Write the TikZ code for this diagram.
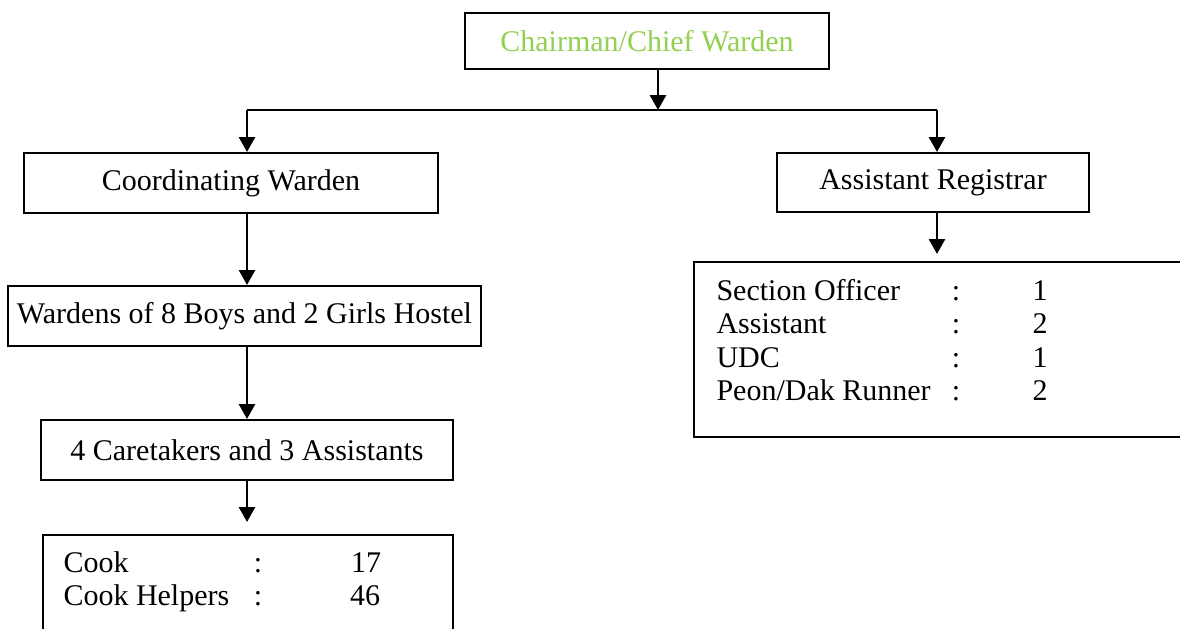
\documentclass[tikz,border=0pt]{standalone}
\usepackage{fontspec}
\setmainfont{Liberation Serif}
\usetikzlibrary{arrows.meta}
\definecolor{lgreen}{HTML}{92D050}
\begin{document}
\begin{tikzpicture}[x=0.4pt,y=-0.4pt,
  box/.style={draw,line width=0.8pt,inner sep=0pt,font=\fontsize{12}{14}\selectfont},
  txt/.style={inner sep=0pt,font=\fontsize{12}{14}\selectfont},
  arr/.style={line width=1.1pt,-{Triangle[length=6pt,width=6.4pt]}},
  ln/.style={line width=0.9pt}]
\useasboundingbox (0,0) rectangle (1180,628);
\clip (0,0) rectangle (1180,628);
% boxes
\node[box,minimum width=145.6pt,minimum height=22.4pt,text=lgreen] (chair) at (647,41) {Chairman/Chief Warden};
\node[box,minimum width=165.6pt,minimum height=24pt] (coord) at (231,183) {Coordinating Warden};
\node[box,minimum width=124.8pt,minimum height=23.6pt] (asreg) at (933,182.5) {Assistant Registrar};
\node[box,minimum width=189.2pt,minimum height=24pt] (wardens) at (244.5,316) {Wardens of 8 Boys and 2 Girls Hostel};
\node[box,minimum width=164.8pt,minimum height=24pt] (care) at (247,450) {4 Caretakers and 3 Assistants};
\node[box,minimum width=164pt,minimum height=48pt] (cook) at (248,595) {};
\node[box,minimum width=202.4pt,minimum height=70pt] (list) at (947,349.5) {};
% junction
\coordinate (j) at (658,110);
\coordinate (jl) at (247,110);
\coordinate (jr) at (937,110);
\coordinate (cooktip) at (247,522);
\coordinate (listtip) at (937,254);
\draw[arr] (chair.south -| j) -- (j);
\draw[ln] (jl) -- (jr);
\draw[arr] (jl) -- (coord.north -| jl);
\draw[arr] (jr) -- (asreg.north -| jr);
\draw[arr] (coord.south -| jl) -- (wardens.north -| jl);
\draw[arr] (wardens.south -| jl) -- (care.north -| jl);
\draw[arr] (care.south -| jl) -- (cooktip);
\draw[arr] (asreg.south -| listtip) -- (listtip);
% list texts
\node[txt,anchor=base west] (l1) at (716,300) {Section Officer};
\node[txt,anchor=base west] (l2) at (716,333.5) {Assistant};
\node[txt,anchor=base west] (l3) at (716,367) {UDC};
\node[txt,anchor=base west] (l4) at (716,400.5) {Peon/Dak Runner};
\node[txt,anchor=base] (c1) at (956,300) {:};
\node[txt,anchor=base] (c2) at (956,333.5) {:};
\node[txt,anchor=base] (c3) at (956,367) {:};
\node[txt,anchor=base] (c4) at (956,400.5) {:};
\node[txt,anchor=base] (n1) at (1040,300) {1};
\node[txt,anchor=base] (n2) at (1040,333.5) {2};
\node[txt,anchor=base] (n3) at (1040,367) {1};
\node[txt,anchor=base] (n4) at (1040,400.5) {2};
% cook texts
\node[txt,anchor=base west] (k1) at (63,572) {Cook};
\node[txt,anchor=base west] (k2) at (63,605) {Cook Helpers};
\node[txt,anchor=base] (kc1) at (258,572) {:};
\node[txt,anchor=base] (kc2) at (258,605) {:};
\node[txt,anchor=base] (kn1) at (366,572) {17};
\node[txt,anchor=base] (kn2) at (365,605) {46};
\end{tikzpicture}
\end{document}
